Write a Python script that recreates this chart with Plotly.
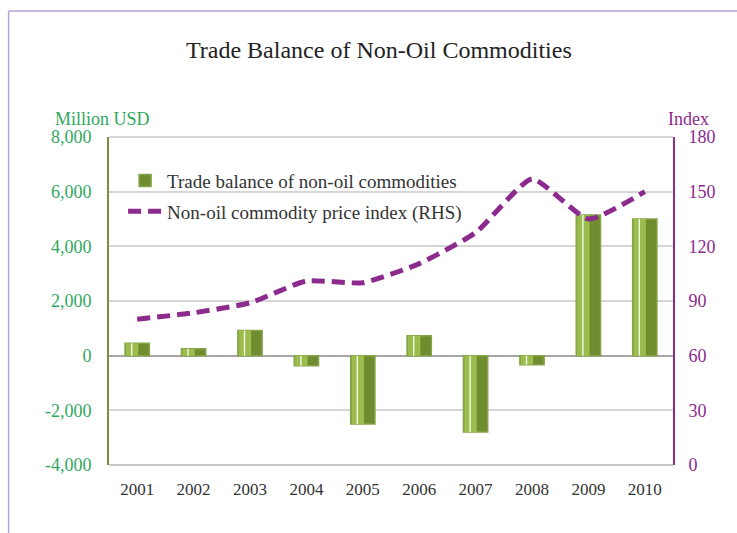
import plotly.graph_objects as go

# Data
years = ["2001", "2002", "2003", "2004", "2005", "2006", "2007", "2008", "2009", "2010"]
trade_balance = [450, 250, 920, -370, -2500, 730, -2790, -330, 5150, 5000]  # Million USD
price_index = [80, 83.5, 89, 101, 100, 110.5, 127.5, 157, 135, 150]  # Index (RHS)

left_ticks = [-4000, -2000, 0, 2000, 4000, 6000, 8000]
left_labels = ["-4,000", "-2,000", "0", "2,000", "4,000", "6,000", "8,000"]
right_ticks = [0, 30, 60, 90, 120, 150, 180]

GREEN_TXT = "#2fa85e"
PURPLE = "#8c2a8e"
BAR_DARK = "#6f8c2e"
BAR_LIGHT = "#9cbd4e"
SERIF = "Liberation Serif, DejaVu Serif, serif"

fig = go.Figure()

# Bars: darker body with lighter left half to give a shaded look
fig.add_trace(go.Bar(
    x=years, y=trade_balance, name="Trade balance of non-oil commodities",
    marker=dict(color=BAR_DARK, line=dict(color="#86a34a", width=1.5)),
    width=0.43, offset=-0.215, yaxis="y", showlegend=True, legendgroup="a",
))
fig.add_trace(go.Bar(
    x=years, y=trade_balance, name="highlight",
    marker=dict(color=BAR_LIGHT, line=dict(width=0)),
    width=0.22, offset=-0.2, yaxis="y", showlegend=False, hoverinfo="skip",
))
fig.add_trace(go.Bar(
    x=years, y=trade_balance, name="shine",
    marker=dict(color="rgba(255,255,255,0.85)", line=dict(width=0)),
    width=0.025, offset=-0.11, yaxis="y", showlegend=False, hoverinfo="skip",
))

# Price index line on the right-hand axis
fig.add_trace(go.Scatter(
    x=years, y=price_index, name="Non-oil commodity price index (RHS)",
    mode="lines", line=dict(color=PURPLE, width=5, dash="13px,7px", shape="spline", smoothing=0.5),
    yaxis="y2", legendgroup="b",
))

fig.update_layout(
    width=737, height=533,
    margin=dict(l=109, r=64, t=137, b=68),
    paper_bgcolor="white", plot_bgcolor="white",
    barmode="overlay",
    font=dict(family=SERIF, size=18, color="#333333"),
    showlegend=True,
    legend=dict(
        x=0.025, y=0.925, xanchor="left", yanchor="top",
        bgcolor="rgba(0,0,0,0)", font=dict(family=SERIF, size=19),
        traceorder="grouped", tracegroupgap=3, itemwidth=34,
    ),
    xaxis=dict(
        type="category", showgrid=False,
        showline=False, ticks="outside", ticklen=9, tickcolor="rgba(0,0,0,0)",
        tickfont=dict(family=SERIF, size=17, color="#333333"),
    ),
    yaxis=dict(
        range=[-4000, 8000], tickvals=left_ticks, ticktext=left_labels,
        showgrid=True, gridcolor="#d6d6d6", gridwidth=1.5,
        zeroline=True, zerolinecolor="#a6a6a6", zerolinewidth=2,
        showline=True, linecolor="#7d8f3e", linewidth=2,
        ticks="outside", ticklen=12, tickcolor="rgba(0,0,0,0)",
        tickfont=dict(family=SERIF, size=18, color=GREEN_TXT),
    ),
    yaxis2=dict(
        range=[0, 180], tickvals=right_ticks, overlaying="y", side="right",
        showgrid=False, zeroline=False,
        showline=True, linecolor=PURPLE, linewidth=2,
        ticks="outside", ticklen=10, tickcolor="rgba(0,0,0,0)",
        tickfont=dict(family=SERIF, size=18, color=PURPLE),
    ),
    shapes=[
        # bottom axis line
        dict(type="line", xref="paper", yref="paper", x0=0, x1=1, y0=0, y1=0,
             line=dict(color="#c8c8c8", width=2)),
        # top edge of the plot
        dict(type="line", xref="paper", yref="paper", x0=0, x1=1, y0=1, y1=1,
             line=dict(color="#d6d6d6", width=2)),
        # page frame
        dict(type="line", xref="paper", yref="paper", x0=-0.178, x1=1.2, y0=1.384, y1=1.384,
             line=dict(color="#b7a3d8", width=1.5)),
        dict(type="line", xref="paper", yref="paper", x0=-0.178, x1=-0.178, y0=1.384, y1=-0.25,
             line=dict(color="#b7a3d8", width=1.5)),
    ],
    annotations=[
        dict(text="Trade Balance of Non-Oil Commodities", xref="paper", yref="paper",
             x=0.479, y=1.265, xanchor="center", yanchor="middle", showarrow=False,
             font=dict(family=SERIF, size=24, color="#222222")),
        dict(text="Million USD", xref="paper", yref="paper", x=-0.012, y=1.055,
             xanchor="center", yanchor="middle", showarrow=False,
             font=dict(family=SERIF, size=18, color=GREEN_TXT)),
        dict(text="Index", xref="paper", yref="paper", x=1.028, y=1.055,
             xanchor="center", yanchor="middle", showarrow=False,
             font=dict(family=SERIF, size=18, color=PURPLE)),
    ],
)

fig.write_html("out.html")
